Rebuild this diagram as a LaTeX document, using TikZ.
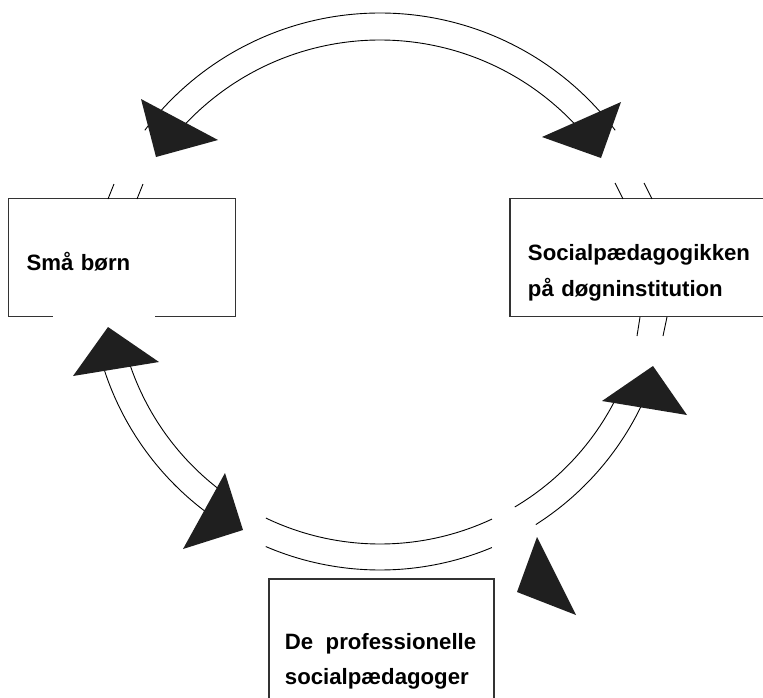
\documentclass[tikz,border=0pt]{standalone}
\usepackage{fontspec}
\setmainfont{Liberation Sans}
\usepackage{tikz}
\usetikzlibrary{positioning,calc}
\tikzset{box/.style={draw=black!80,line width=1.3pt,anchor=north west,inner xsep=18pt,inner ysep=0pt,align=left,font=\bfseries\fontsize{22.2}{36}\selectfont}}
\tikzset{band/.style={draw,line width=0.9pt}}
\tikzset{head/.style={fill=black!88}}
\tikzset{mask/.style={draw=white,line width=3pt}}
\newcommand{\bandarc}[4]{\draw[band] ($(#1)+(#3:#2)$) arc[start angle=#3,end angle=#4,radius=#2];}

\begin{document}
\begin{tikzpicture}[x=1pt,y=-1pt]
    \useasboundingbox (0,0) rectangle (763,697);
    \clip (0,0) rectangle (763,697);
        \node[box,text width=191pt,text height=72pt,text depth=46pt] (smaa) at (8,198) {Små børn};
        \node[box,right=273pt of smaa.north east,anchor=north west,text width=231pt,text height=62pt,text depth=56pt] (paed) {Socialpædagogikken\\på døgninstitution};
        \node[box,below right=261pt and 32pt of smaa.south east,inner xsep=16pt,text width=193pt,text height=71pt,text depth=54pt,font=\bfseries\fontsize{22.2}{35}\selectfont] (prof) {De\hspace{5pt} professionelle\\socialpædagoger};
            \path[mask] ($(smaa.south west)+(45,0)$) -- ($(smaa.south west)+(147,0)$);

        % centres of the bands
        \coordinate (crown) at (380,307.5);
        \coordinate (ring) at (380,280);
        \bandarc{crown}{294.5}{-143}{-37}
        \bandarc{crown}{267.5}{-138}{-42}
        \bandarc{ring}{290}{163}{125}
        \bandarc{ring}{264}{163}{125}
        \bandarc{ring}{264}{115.6}{64.9}
        \bandarc{ring}{290}{113.2}{67.3}
        \bandarc{ring}{264}{25}{59.3}
        \bandarc{ring}{290}{25}{57.5}

        % short bits at the boxes
        \draw[band] (114,184) -- (108,199);
        \draw[band] (143,184) -- (137,199);
        \draw[band] (615,183) -- (623,199);
        \draw[band] (644,183) -- (652,199);
        \draw[band] (640,317) -- (637,336);
        \draw[band] (667,317) -- (663,336);

        % heads
        \fill[head] (141,99) -- (218,140) -- (156,157) -- cycle;
        \fill[head] (621,102) -- (542,137) -- (601,158) -- cycle;
        \fill[head] (108,327) -- (159,362) -- (73,376) -- cycle;
        \fill[head] (225,473) -- (243,530) -- (183,549) -- cycle;
        \fill[head] (653,366) -- (687,415) -- (602,401) -- cycle;
        \fill[head] (537,537) -- (576,615) -- (517,592) -- cycle;
\end{tikzpicture}
\end{document}
